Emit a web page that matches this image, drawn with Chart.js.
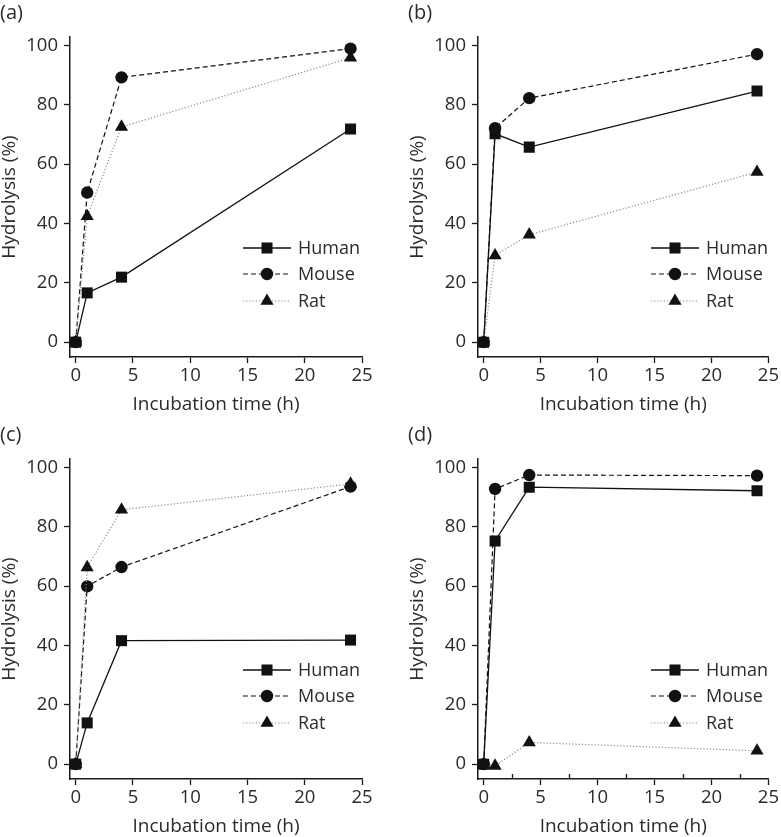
<!DOCTYPE html>
<html><head><meta charset="utf-8">
<script src="https://cdn.jsdelivr.net/npm/chart.js@4/dist/chart.umd.min.js"></script>
<style>
html,body{margin:0;padding:0;background:#fff;overflow:hidden;width:781px;height:837px;position:relative}
canvas{position:absolute}
</style></head><body>
<canvas id="ca" width="390" height="418" style="left:0;top:0"></canvas>
<canvas id="cb" width="373" height="418" style="left:408px;top:0"></canvas>
<canvas id="cc" width="390" height="418" style="left:0;top:422px"></canvas>
<canvas id="cd" width="373" height="418" style="left:408px;top:422px"></canvas>
<script>
// ---- data ----
const timesH = [0, 1, 4, 24];
const seriesNames = ['Human', 'Mouse', 'Rat'];
const panelLabels = ['(a)', '(b)', '(c)', '(d)'];
const humanA = [0, 16.6, 21.9, 71.8];
const mouseA = [0, 50.4, 89.2, 98.9];
const ratA   = [0, 42.4, 72.5, 95.8];
const humanB = [0, 70.2, 65.7, 84.6];
const mouseB = [0, 72.1, 82.2, 97.0];
const ratB   = [0, 29.2, 36.2, 57.3];
const humanC = [0, 13.9, 41.6, 41.8];
const mouseC = [0, 59.9, 66.4, 93.5];
const ratC   = [0, 66.3, 85.7, 94.4];
const humanD = [0, 75.2, 93.3, 92.1];
const mouseD = [0, 92.7, 97.4, 97.2];
const ratD   = [0, -0.6, 7.3, 4.5];
const xTicks = [0, 5, 10, 15, 20, 25];
const yTicks = [0, 20, 40, 60, 80, 100];
const xMinorTicksD = [2.5, 7.5, 12.5, 17.5, 22.5];
const xTitle = 'Incubation time (h)';
const yTitle = 'Hydrolysis (%)';

const FONT = "'Open Sans', sans-serif";
const TXT = '#2b2b2b';
const AX = '#1a1a1a';

function drawMarker(ctx, style, x, y, r) {
  ctx.save();
  ctx.fillStyle = '#111';
  ctx.beginPath();
  if (style === 'rect') {
    const s = Math.SQRT1_2 * r;
    ctx.rect(x - s, y - s, 2 * s, 2 * s);
  } else if (style === 'circle') {
    ctx.arc(x, y, r, 0, Math.PI * 2);
  } else {
    ctx.moveTo(x, y - r);
    ctx.lineTo(x + r * Math.sin(2 * Math.PI / 3), y - r * Math.cos(2 * Math.PI / 3));
    ctx.lineTo(x + r * Math.sin(4 * Math.PI / 3), y - r * Math.cos(4 * Math.PI / 3));
    ctx.closePath();
  }
  ctx.fill();
  ctx.restore();
}

const legendPlugin = {
  id: 'customLegend',
  afterDatasetsDraw(chart) {
    const {ctx, chartArea} = chart;
    const x0 = chartArea.left + 173, x1 = chartArea.left + 221, tx = chartArea.left + 228;
    const rows = [211, 237, 264];
    chart.data.datasets.forEach((ds, i) => {
      const y = chartArea.top + rows[i];
      ctx.save();
      ctx.strokeStyle = ds.borderColor;
      ctx.lineWidth = ds.borderWidth;
      ctx.setLineDash(ds.borderDash || []);
      ctx.beginPath(); ctx.moveTo(x0, y); ctx.lineTo(x1, y); ctx.stroke();
      ctx.setLineDash([]);
      drawMarker(ctx, ds.pointStyle, (x0 + x1) / 2, y, ds.pointRadius);
      ctx.fillStyle = TXT;
      ctx.font = '18px ' + FONT;
      ctx.textBaseline = 'middle';
      ctx.textAlign = 'left';
      ctx.fillText(ds.label, tx, y + 1);
      ctx.restore();
    });
  }
};

const panelLabelPlugin = {
  id: 'panelLabel',
  afterDraw(chart) {
    const ctx = chart.ctx;
    ctx.save();
    ctx.fillStyle = TXT;
    ctx.font = '20px ' + FONT;
    ctx.textBaseline = 'middle';
    ctx.textAlign = 'left';
    ctx.fillText(chart.options.plugins.panelLabel.text, 0, 13);
    ctx.restore();
  }
};

const minorTickPlugin = {
  id: 'minorTicks',
  afterDraw(chart) {
    const vals = chart.options.plugins.minorTicks.values;
    if (!vals || !vals.length) return;
    const xs = chart.scales.x, ctx = chart.ctx;
    const yb = chart.chartArea.bottom;
    ctx.save();
    ctx.strokeStyle = AX; ctx.lineWidth = 1.3;
    ctx.beginPath();
    vals.forEach(v => { const px = Math.round(xs.getPixelForValue(v)) + 0.5; ctx.moveTo(px, yb); ctx.lineTo(px, yb - 5); });
    ctx.stroke();
    ctx.restore();
  }
};

function makeDatasets(h, m, r) {
  const pts = arr => timesH.map((t, i) => ({x: t, y: arr[i]}));
  return [
    {label: seriesNames[0], data: pts(h), borderColor: '#111', borderWidth: 1.3, borderDash: [],
     pointStyle: 'rect', pointRadius: 7.8, pointBackgroundColor: '#111', pointBorderWidth: 0, order: 3},
    {label: seriesNames[1], data: pts(m), borderColor: '#111', borderWidth: 1.2, borderDash: [5, 3],
     pointStyle: 'circle', pointRadius: 6.2, pointBackgroundColor: '#111', pointBorderWidth: 0, order: 2},
    {label: seriesNames[2], data: pts(r), borderColor: '#8a8a8a', borderWidth: 1.2, borderDash: [1.2, 2],
     pointStyle: 'triangle', pointRadius: 7.6, pointBackgroundColor: '#111', pointBorderWidth: 0, order: 1}
  ];
}

function makeChart(id, label, h, m, r, rightPad, minor) {
  return new Chart(document.getElementById(id), {
    type: 'line',
    data: {datasets: makeDatasets(h, m, r)},
    plugins: [legendPlugin, panelLabelPlugin, minorTickPlugin],
    options: {
      responsive: false,
      animation: false,
      devicePixelRatio: 1,
      layout: {padding: {left: 0, top: 37, right: rightPad, bottom: 0}},
      elements: {line: {tension: 0, fill: false}},
      plugins: {
        legend: {display: false},
        tooltip: {enabled: false},
        title: {display: false},
        panelLabel: {text: label},
        minorTicks: {values: minor}
      },
      scales: {
        x: {
          type: 'linear', min: -0.5, max: 25,
          afterBuildTicks: s => { s.ticks = xTicks.map(v => ({value: v})); },
          afterFit: s => { s.height = 61; },
          grid: {display: true, drawOnChartArea: false, drawTicks: true, tickLength: 6, tickWidth: 1.3, tickColor: AX},
          border: {display: true, color: AX, width: 1.5},
          ticks: {color: TXT, font: {family: FONT, size: 18.5}, padding: 2, maxRotation: 0, autoSkip: false},
          title: {display: true, text: xTitle, color: TXT, font: {family: FONT, size: 19}, padding: {top: 0, bottom: 2}}
        },
        y: {
          type: 'linear', min: -5, max: 102.8,
          afterBuildTicks: s => { s.ticks = yTicks.map(v => ({value: v})); },
          afterFit: s => { s.width = 70; },
          grid: {display: true, drawOnChartArea: false, drawTicks: true, tickLength: 6, tickWidth: 1.3, tickColor: AX},
          border: {display: true, color: AX, width: 1.5},
          ticks: {color: TXT, font: {family: FONT, size: 18.5}, padding: 6, autoSkip: false},
          title: {display: true, text: yTitle, color: TXT, font: {family: FONT, size: 19, lineHeight: 1.0}, padding: {top: 0, bottom: 0}}
        }
      }
    }
  });
}

makeChart('ca', panelLabels[0], humanA, mouseA, ratA, 28, []);
makeChart('cb', panelLabels[1], humanB, mouseB, ratB, 10, []);
makeChart('cc', panelLabels[2], humanC, mouseC, ratC, 28, []);
makeChart('cd', panelLabels[3], humanD, mouseD, ratD, 10, xMinorTicksD);
</script>
</body></html>
